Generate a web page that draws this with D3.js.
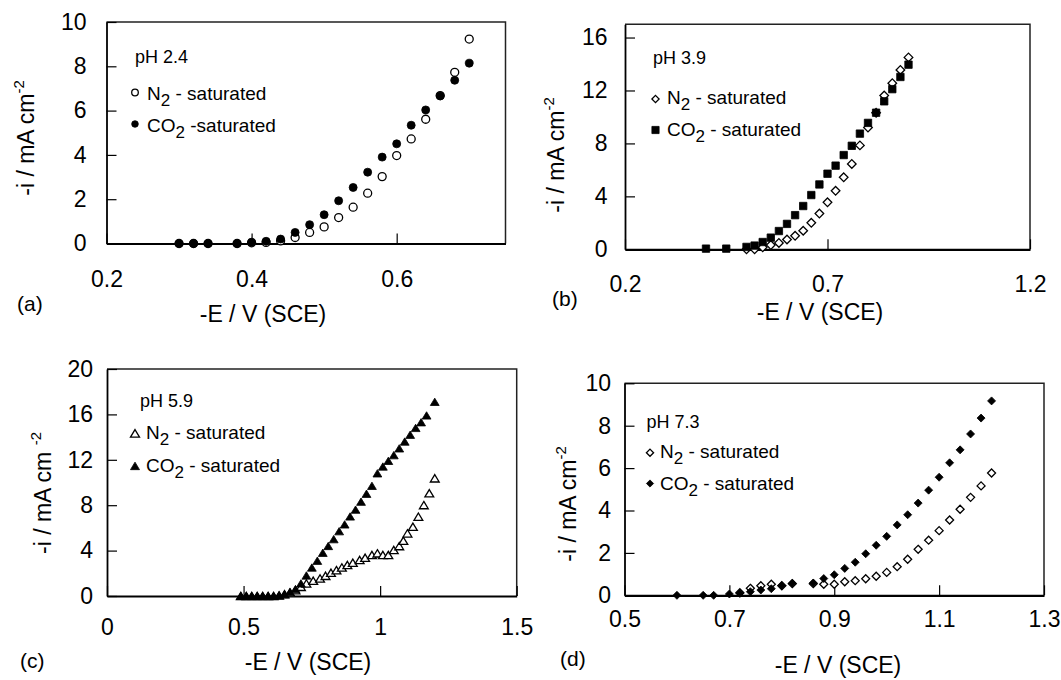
<!DOCTYPE html>
<html><head><meta charset="utf-8">
<script src="https://cdn.jsdelivr.net/npm/d3@7"></script>
<style>
body{margin:0;background:#fff;}
svg{display:block;}
text{font-family:"Liberation Sans",Arial,Helvetica,sans-serif;fill:#000;}
</style>
</head><body>
<svg id="chart" width="1061" height="680"></svg>
<script>
// ---------- Panel (a) pH 2.4 ----------
const aX   = [0.30,0.32,0.34,0.38,0.40,0.42,0.44,0.46,0.48,0.50,0.52,0.54,0.56,0.58,0.60,0.62,0.64,0.66,0.68,0.70];
const aN2  = [0,0,0,0,0.03,0.05,0.12,0.27,0.50,0.75,1.17,1.64,2.27,3.02,3.97,4.72,5.61,6.68,7.73,9.23];
const aCO2 = [0,0,0,0,0.06,0.10,0.20,0.50,0.85,1.30,1.93,2.53,3.22,3.90,4.50,5.34,6.03,6.66,7.37,8.14];
const aXTicks = [0.2,0.4,0.6];
const aYTicks = [0,2,4,6,8,10];

// ---------- Panel (b) pH 3.9 ----------
const bCO2X = [0.40,0.45,0.50,0.52,0.54,0.56,0.58,0.60,0.62,0.64,0.66,0.68,0.70,0.72,0.74,0.76,0.78,0.80,0.82,0.84,0.86,0.88,0.90];
const bCO2  = [0.05,0.05,0.18,0.28,0.55,0.88,1.38,1.92,2.58,3.27,4.10,4.90,5.71,6.32,7.12,7.82,8.74,9.55,10.32,11.18,12.10,13.02,13.95];
const bN2X  = [0.50,0.52,0.54,0.56,0.58,0.60,0.62,0.64,0.66,0.68,0.70,0.72,0.74,0.76,0.78,0.80,0.82,0.84,0.86,0.88,0.90];
const bN2   = [0,0,0.15,0.32,0.48,0.74,1.02,1.40,2.00,2.70,3.55,4.42,5.44,6.45,7.85,9.20,10.32,11.62,12.55,13.55,14.50];
const bXTicks = [0.2,0.7,1.2];
const bYTicks = [0,4,8,12,16];

// ---------- Panel (c) pH 5.9 ----------
const cCO2X = [0.49,0.51,0.53,0.55,0.57,0.59,0.61,0.63,0.65,0.67,0.69,0.71,0.73,0.75,0.77,0.79,0.81,0.83,0.85,0.87,0.89,0.91,0.93,0.95,0.97,0.99,1.01,1.03,1.05,1.07,1.09,1.11,1.13,1.15,1.17,1.20];
const cCO2  = [0,0,0,0,0,0,0,0.05,0.15,0.35,0.6,1.1,1.8,2.5,3.1,3.8,4.4,5.0,5.7,6.3,7.0,7.6,8.3,9.0,9.7,10.8,11.4,11.9,12.4,13.0,13.6,14.2,14.8,15.3,15.9,17.1];
const cN2X  = [0.49,0.51,0.53,0.55,0.57,0.59,0.61,0.63,0.65,0.67,0.69,0.71,0.73,0.755,0.78,0.80,0.82,0.84,0.86,0.88,0.90,0.925,0.945,0.97,0.99,1.01,1.03,1.05,1.07,1.085,1.10,1.12,1.14,1.16,1.18,1.20];
const cN2   = [0,0,0,0,0,0,0,0.05,0.15,0.3,0.51,0.80,1.10,1.33,1.54,1.77,2.04,2.27,2.51,2.72,2.92,3.16,3.36,3.60,3.75,3.6,3.6,4.04,4.39,4.86,5.51,6.09,6.98,8.0,9.04,10.36];
const cXTicks = [0,0.5,1,1.5];
const cYTicks = [0,4,8,12,16,20];

// ---------- Panel (d) pH 7.3 ----------
const dCO2X = [0.60,0.65,0.67,0.70,0.72,0.74,0.76,0.78,0.80,0.82,0.86,0.88,0.90,0.92,0.94,0.96,0.98,1.00,1.02,1.04,1.06,1.08,1.10,1.12,1.14,1.16,1.18,1.20];
const dCO2  = [0,0,0,0.06,0.10,0.17,0.25,0.31,0.46,0.57,0.58,0.79,0.97,1.27,1.56,1.96,2.36,2.78,3.32,3.80,4.35,4.96,5.57,6.25,6.86,7.61,8.36,9.17];
const dN2X  = [0.72,0.74,0.76,0.78,0.80,0.82,0.86,0.88,0.90,0.92,0.94,0.96,0.98,1.00,1.02,1.04,1.06,1.08,1.10,1.12,1.14,1.16,1.18,1.20];
const dN2   = [0.12,0.33,0.45,0.52,0.45,0.55,0.55,0.52,0.52,0.64,0.69,0.78,0.90,1.08,1.35,1.70,2.17,2.60,3.05,3.55,4.06,4.62,5.16,5.77];
const dXTicks = [0.5,0.7,0.9,1.1,1.3];
const dYTicks = [0,2,4,6,8,10];

const svg = d3.select('#chart');

function markerPath(shape, s){
  if (shape === 'diamond') return `M0,${-s} L${s},0 L0,${s} L${-s},0 Z`;
  if (shape === 'square') return `M${-s},${-s} H${s} V${s} H${-s} Z`;
  if (shape === 'triangle') return `M0,${-s*0.9} L${s*1.05},${s*0.85} L${-s*1.05},${s*0.85} Z`;
  return null;
}
function drawMarker(g, shape, filled, cx, cy, s){
  let m;
  if (shape === 'circle') {
    m = g.append('circle').attr('cx', cx).attr('cy', cy).attr('r', s);
  } else {
    m = g.append('path').attr('d', markerPath(shape, s)).attr('transform', `translate(${cx},${cy})`);
  }
  m.attr('fill', filled ? '#000' : '#fff').attr('stroke', '#000').attr('stroke-width', filled ? 0.8 : 1.3);
  return m;
}

function panel(cfg){
  const x = d3.scaleLinear().domain(cfg.xDomain).range([cfg.left, cfg.right]);
  const y = d3.scaleLinear().domain(cfg.yDomain).range([cfg.bottom, cfg.top]);
  const g = svg.append('g');

  // top & right frame
  g.append('path')
    .attr('d', `M${cfg.left},${cfg.top} H${cfg.right} V${cfg.bottom}`)
    .attr('fill', 'none').attr('stroke', '#222').attr('stroke-width', 1.5);

  // x axis
  const xa = d3.axisBottom(x).tickValues(cfg.xTicks).tickFormat(cfg.xFmt)
    .tickSizeInner(-10).tickSizeOuter(0).tickPadding(cfg.xPad);
  const gx = g.append('g').attr('transform', `translate(0,${cfg.bottom})`).call(xa);
  gx.select('.domain').attr('stroke', '#000').attr('stroke-width', 2.2);
  gx.selectAll('.tick line').attr('stroke', '#000').attr('stroke-width', 1.2);
  gx.selectAll('.tick text').attr('font-size', 23).attr('font-family', null).attr('fill', '#000');
  gx.attr('font-family', null);

  // y axis
  const ya = d3.axisLeft(y).tickValues(cfg.yTicks).tickFormat(d3.format('d'))
    .tickSizeInner(-10).tickSizeOuter(0).tickPadding(cfg.yPad);
  const gy = g.append('g').attr('transform', `translate(${cfg.left},0)`).call(ya);
  gy.select('.domain').attr('stroke', '#000').attr('stroke-width', 1.8);
  gy.selectAll('.tick line').attr('stroke', '#000').attr('stroke-width', 1.2);
  gy.selectAll('.tick text').attr('font-size', 23).attr('font-family', null).attr('fill', '#000');
  gy.attr('font-family', null);

  // series: N2 first, CO2 on top
  const n2 = cfg.n2x.map((v,i) => ({x: v, y: cfg.n2y[i]}));
  const co2 = cfg.co2x.map((v,i) => ({x: v, y: cfg.co2y[i]}));
  const gs = g.append('g');
  n2.forEach(d => drawMarker(gs, cfg.n2Shape, false, x(d.x), y(d.y), cfg.ms));
  co2.forEach(d => drawMarker(gs, cfg.co2Shape, true, x(d.x), y(d.y), cfg.msCo2 || cfg.ms));

  // legend
  const L = cfg.legend;
  g.append('text').attr('x', L.phX).attr('y', L.phY).attr('font-size', 18).text(cfg.ph);
  drawMarker(g, cfg.n2Shape, false, L.mx, L.r1m, L.ms);
  const t1 = g.append('text').attr('x', L.tx).attr('y', L.r1t).attr('font-size', 19);
  t1.append('tspan').text('N');
  t1.append('tspan').attr('dy', 6).attr('font-size', 17).text('2');
  t1.append('tspan').attr('dy', -6).text(' - saturated');
  drawMarker(g, cfg.co2Shape, true, L.mx, L.r2m, L.ms);
  const t2 = g.append('text').attr('x', L.tx).attr('y', L.r2t).attr('font-size', 19);
  t2.append('tspan').text('CO');
  t2.append('tspan').attr('dy', 6).attr('font-size', 17).text('2');
  t2.append('tspan').attr('dy', -6).text(cfg.co2Suffix);

  // axis titles
  g.append('text').attr('x', cfg.xtX).attr('y', cfg.xtY).attr('text-anchor', 'middle')
    .attr('font-size', 23).text('-E / V (SCE)');
  const yt = g.append('text').attr('transform', `translate(${cfg.ytX},${cfg.ytY}) rotate(-90)`)
    .attr('text-anchor', 'middle').attr('font-size', 23);
  yt.append('tspan').text(cfg.ytMain);
  yt.append('tspan').attr('dy', -10).attr('font-size', 15).text('-2');

  // panel label
  g.append('text').attr('x', cfg.lblX).attr('y', cfg.lblY).attr('font-size', 21).text(cfg.label);
}

const fmt1 = d3.format('.1f');
const fmtC = d => (d === 0 || d === 1) ? String(d) : d3.format('.1f')(d);

panel({
  xDomain:[0.2,0.75], yDomain:[0,10], left:106.5, right:505.5, top:22, bottom:243.5,
  xTicks:aXTicks, yTicks:aYTicks, xFmt:fmt1, xPad:27, yPad:20,
  n2x:aX, n2y:aN2, co2x:aX, co2y:aCO2, n2Shape:'circle', co2Shape:'circle', ms:4,
  ph:'pH 2.4', co2Suffix:' -saturated',
  legend:{phX:135, phY:63, mx:135, r1m:92.5, r2m:124, tx:147, r1t:100, r2t:131.5, ms:3.3},
  xtX:263, xtY:322, ytX:34, ytY:138, ytMain:'-i / mA cm', lblX:17, lblY:311, label:'(a)'
});

panel({
  xDomain:[0.2,1.2], yDomain:[0,17], left:625, right:1030, top:24.3, bottom:249.3,
  xTicks:bXTicks, yTicks:bYTicks, xFmt:fmt1, xPad:26, yPad:17.5,
  n2x:bN2X, n2y:bN2, co2x:bCO2X, co2y:bCO2, n2Shape:'diamond', co2Shape:'square', ms:4.3, msCo2:3.7,
  ph:'pH 3.9', co2Suffix:' - saturated',
  legend:{phX:653, phY:64, mx:655.5, r1m:99, r2m:130, tx:667, r1t:104, r2t:136, ms:3.6},
  xtX:820, xtY:320, ytX:564, ytY:155, ytMain:'-i / mA cm', lblX:552, lblY:306, label:'(b)'
});

panel({
  xDomain:[0,1.5], yDomain:[0,20], left:107, right:516.7, top:369, bottom:596,
  xTicks:cXTicks, yTicks:cYTicks, xFmt:fmtC, xPad:23, yPad:14,
  n2x:cN2X, n2y:cN2, co2x:cCO2X, co2y:cCO2, n2Shape:'triangle', co2Shape:'triangle', ms:4.2,
  ph:'pH 5.9', co2Suffix:' - saturated',
  legend:{phX:140, phY:407, mx:135, r1m:433.5, r2m:466, tx:146, r1t:438.5, r2t:471.5, ms:4.3},
  xtX:308, xtY:670, ytX:51, ytY:493, ytMain:'-i / mA cm ', lblX:20, lblY:668, label:'(c)'
});

panel({
  xDomain:[0.5,1.3], yDomain:[0,10], left:624.5, right:1044, top:383.3, bottom:595.3,
  xTicks:dXTicks, yTicks:dYTicks, xFmt:fmt1, xPad:15, yPad:13.5,
  n2x:dN2X, n2y:dN2, co2x:dCO2X, co2y:dCO2, n2Shape:'diamond', co2Shape:'diamond', ms:4,
  ph:'pH 7.3', co2Suffix:' - saturated',
  legend:{phX:646.5, phY:428, mx:650, r1m:452.7, r2m:483.5, tx:660, r1t:458, r2t:490, ms:3.6},
  xtX:838, xtY:673, ytX:576, ytY:504, ytMain:'-i / mA cm', lblX:560, lblY:666, label:'(d)'
});
</script>
</body></html>
